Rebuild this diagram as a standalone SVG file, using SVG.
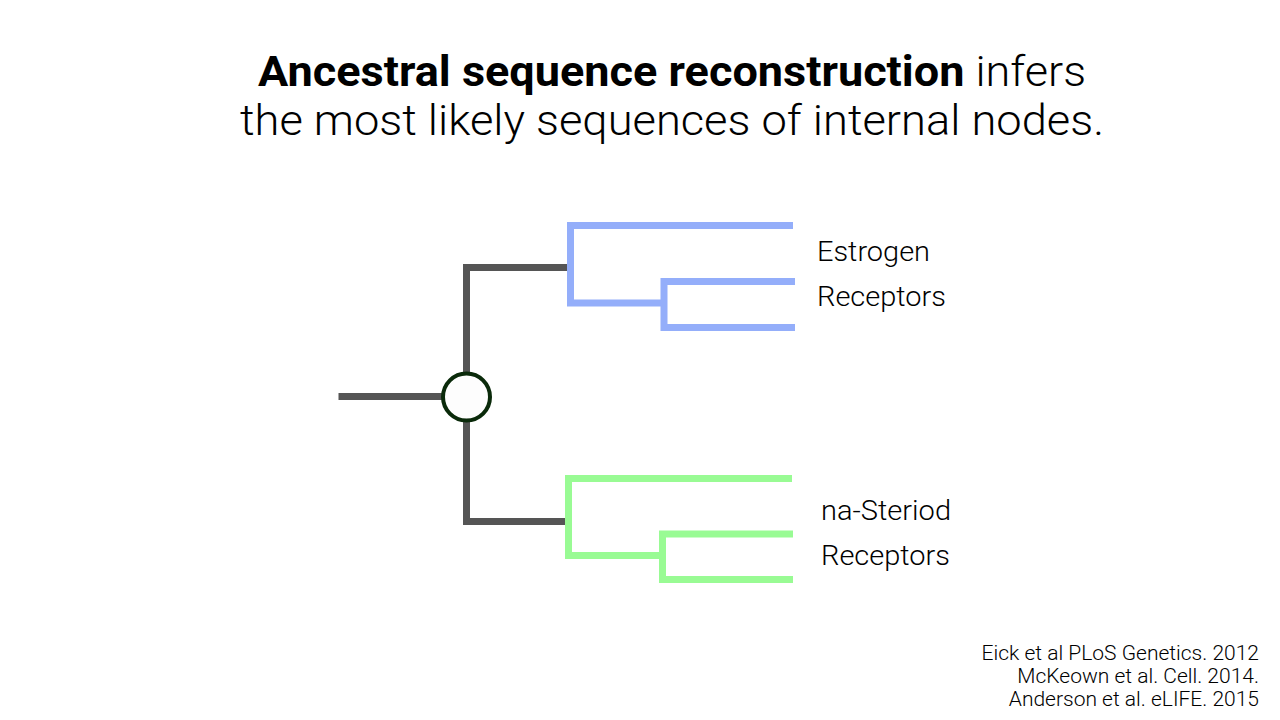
<svg xmlns="http://www.w3.org/2000/svg" width="1280" height="720" viewBox="0 0 1280 720">
<style>
.t{font-family:Roboto,"Liberation Sans",sans-serif;font-weight:300;fill:#000}
.g{stroke:#555555;stroke-width:7;fill:none;stroke-linecap:square}
.bl{stroke:#94aefa;stroke-width:7;fill:none}
.gr{stroke:#99fb94;stroke-width:7;fill:none}
</style>
<rect width="1280" height="720" fill="#ffffff"/>
<g id="title">
<text class="t" x="258" y="86" font-size="42" textLength="828" lengthAdjust="spacingAndGlyphs"><tspan font-weight="700">Ancestral sequence reconstruction</tspan> infers</text>
<text class="t" x="240" y="135" font-size="42" textLength="864" lengthAdjust="spacingAndGlyphs">the most likely sequences of internal nodes.</text>
</g>
<g id="connectors">
<path class="g" d="M342 396.5H445"/>
<path class="g" d="M466.5 375V267.5H564"/>
<path class="g" d="M466.5 420V521.5H562"/>
<path class="bl" d="M793 225.5H570.5V303H661"/>
<path class="bl" d="M795 281.5H664V327.5H795"/>
<path class="gr" d="M792 478.5H568.5V555.5H659"/>
<path class="gr" d="M793 534H662.5V579.5H793"/>
</g>
<g id="ancestor">
<circle cx="466.5" cy="397" r="23.5" fill="#fdfdfd" stroke="#0a2a0a" stroke-width="4"/>
</g>
<g id="estrogen-label">
<text class="t" x="817" y="261" font-size="27" textLength="113" lengthAdjust="spacingAndGlyphs">Estrogen</text>
<text class="t" x="817" y="306" font-size="27" textLength="129" lengthAdjust="spacingAndGlyphs">Receptors</text>
</g>
<g id="steroid-label">
<text class="t" x="821" y="520" font-size="27" textLength="130" lengthAdjust="spacingAndGlyphs">na-Steriod</text>
<text class="t" x="821" y="565" font-size="27" textLength="129" lengthAdjust="spacingAndGlyphs">Receptors</text>
</g>
<g id="citations">
<text class="t" x="1259" y="660" font-size="21" text-anchor="end">Eick et al PLoS Genetics. 2012</text>
<text class="t" x="1259" y="683" font-size="21" text-anchor="end">McKeown et al. Cell. 2014.</text>
<text class="t" x="1259" y="706" font-size="21" text-anchor="end">Anderson et al. eLIFE. 2015</text>
</g>
</svg>
